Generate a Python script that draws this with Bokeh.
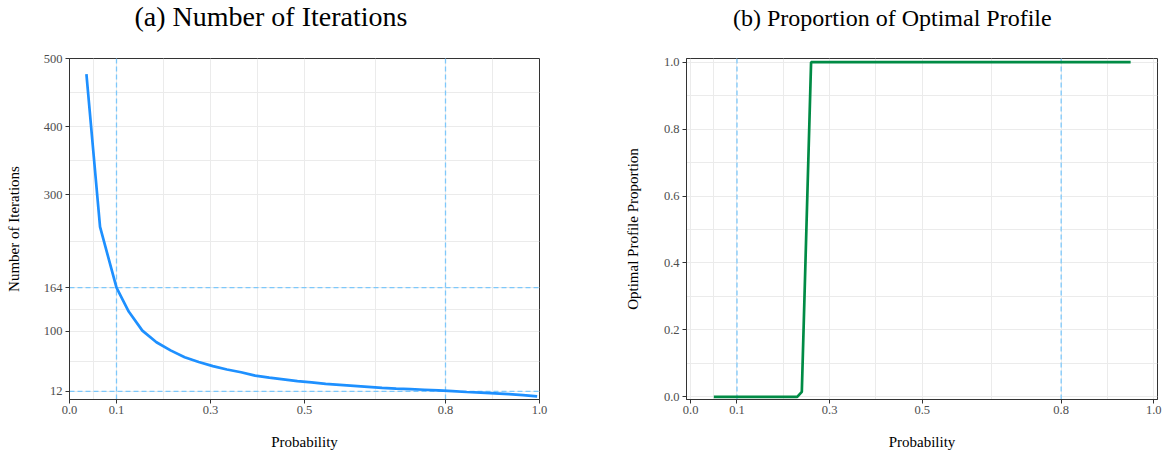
from bokeh.plotting import figure
from bokeh.models import Span, FixedTicker, Range1d, NumeralTickFormatter, Title
from bokeh.layouts import row
from bokeh.embed import file_html
from bokeh.resources import INLINE

# ---- data ----
prob_a = [0.036, 0.065, 0.1, 0.126, 0.155, 0.185, 0.215, 0.245, 0.275, 0.305,
          0.335, 0.365, 0.395, 0.425, 0.455, 0.485, 0.515, 0.545, 0.575, 0.605,
          0.635, 0.665, 0.695, 0.725, 0.755, 0.785, 0.815, 0.845, 0.875, 0.905,
          0.935, 0.965, 0.995]
iters_a = [477, 253, 164, 129, 101, 84, 72, 62, 55, 49,
           44, 40, 35, 32, 29.5, 27, 25, 23, 21.5, 20,
           18.5, 17, 16, 15.2, 14.3, 13.3, 12.2, 11, 10, 9,
           8, 6.5, 4.7]

prob_b = [0.05, 0.23, 0.24, 0.26, 0.95]
prop_b = [0.0, 0.0, 0.015, 1.0, 1.0]

x_ticks = [0.0, 0.1, 0.3, 0.5, 0.8, 1.0]
x_minor = [0.05, 0.2, 0.4, 0.65, 0.9]
ya_ticks = [12, 100, 164, 300, 400, 500]
ya_minor = [56, 132, 232, 350, 450]
yb_ticks = [0.0, 0.2, 0.4, 0.6, 0.8, 1.0]
yb_minor = [0.1, 0.3, 0.5, 0.7, 0.9]

ref_prob = [0.1, 0.8]
ref_iters = [164, 12]

title_a = "(a) Number of Iterations"
title_b = "(b) Proportion of Optimal Profile"
xlabel = "Probability"
ylabel_a = "Number of Iterations"
ylabel_b = "Optimal Profile Proportion"

FONT = "Liberation Serif"
GRID = "#EBEBEB"
DARK = "#333333"
DASH_COLOR = "#7EC8FA"


def style(p, xt, xm, yt, ym, y_fmt, y_standoff):
    p.outline_line_color = DARK
    p.outline_line_width = 1
    p.background_fill_color = "white"
    p.border_fill_color = "white"

    p.xaxis.ticker = FixedTicker(ticks=xt, minor_ticks=xm)
    p.yaxis.ticker = FixedTicker(ticks=yt, minor_ticks=ym)
    p.xaxis.formatter = NumeralTickFormatter(format="0.0")
    if y_fmt:
        p.yaxis.formatter = NumeralTickFormatter(format=y_fmt)

    for ax in (p.xaxis, p.yaxis):
        ax.axis_line_color = DARK
        ax.major_tick_line_color = DARK
        ax.major_tick_out = 4
        ax.major_tick_in = 0
        ax.minor_tick_line_color = None
        ax.major_label_text_font = FONT
        ax.major_label_text_font_size = "12.5px"
        ax.major_label_text_color = "#4D4D4D"
        ax.axis_label_text_font = FONT
        ax.axis_label_text_font_size = "15px"
        ax.axis_label_text_font_style = "normal"
        ax.axis_label_text_color = "black"
    p.xaxis.major_label_standoff = 2
    p.xaxis.axis_label_standoff = 17
    p.yaxis.major_label_standoff = 3
    p.yaxis.axis_label_standoff = y_standoff

    for g in (p.xgrid, p.ygrid):
        g.grid_line_color = GRID
        g.grid_line_width = 1
        g.minor_grid_line_color = GRID
        g.minor_grid_line_width = 1


def add_title(p, text, offset, size, spacer):
    # real title (outermost) plus an empty spacer title next to the frame
    p.title.text = text
    p.title.text_font = FONT
    p.title.text_font_size = size
    p.title.text_font_style = "normal"
    p.title.text_color = "black"
    p.title.align = "left"
    p.title.offset = offset
    p.title.vertical_align = "top"
    p.title.standoff = 0
    p.add_layout(Title(text=" ", text_font_size="1px", standoff=spacer), "above")


# ---- panel (a) ----
p1 = figure(width=582, height=457, output_backend="svg", toolbar_location=None,
            x_range=Range1d(0, 1.0), y_range=Range1d(0, 500),
            x_axis_label=xlabel, y_axis_label=ylabel_a,
            min_border_left=69, min_border_right=43, min_border_top=58,
            min_border_bottom=57)
style(p1, x_ticks, x_minor, ya_ticks, ya_minor, None, 19)
add_title(p1, title_a, 65, "28px", 22)

for xv in ref_prob:
    p1.add_layout(Span(location=xv, dimension="height", line_color=DASH_COLOR,
                       line_width=1.3, line_dash="5 3", level="underlay"))
for yv in ref_iters:
    p1.add_layout(Span(location=yv, dimension="width", line_color=DASH_COLOR,
                       line_width=1.3, line_dash="5 3", level="underlay"))

p1.line(prob_a, iters_a, line_color="#1E90FF", line_width=2.7)

# ---- panel (b) ----
p2 = figure(width=583, height=457, output_backend="svg", toolbar_location=None,
            x_range=Range1d(-0.009, 1.008), y_range=Range1d(-0.008, 1.011),
            x_axis_label=xlabel, y_axis_label=ylabel_b,
            min_border_left=104, min_border_right=8, min_border_top=58,
            min_border_bottom=58)
style(p2, x_ticks, x_minor, yb_ticks, yb_minor, "0.0", 20)
add_title(p2, title_b, 46.5, "24px", 23)

for xv in ref_prob:
    p2.add_layout(Span(location=xv, dimension="height", line_color=DASH_COLOR,
                       line_width=1.3, line_dash="5 3", level="underlay"))

p2.line(prob_b, prop_b, line_color="#008B45", line_width=2.7)

layout = row(p1, p2)
open("out.html", "w").write(file_html(layout, INLINE))
